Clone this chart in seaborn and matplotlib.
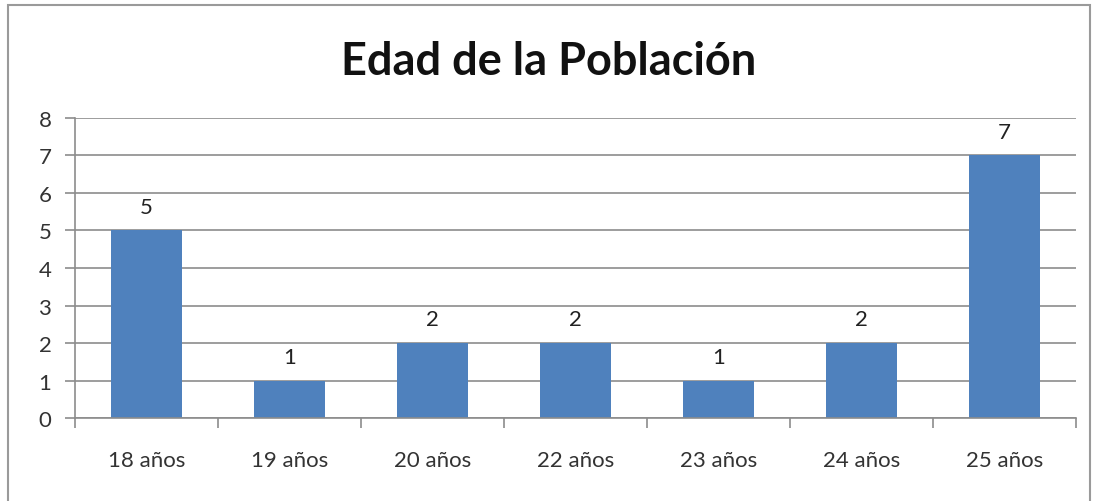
import pandas as pd
import seaborn as sns
import matplotlib.pyplot as plt
from matplotlib.patches import Rectangle

# Data
categories = ["18 años", "19 años", "20 años", "22 años", "23 años", "24 años", "25 años"]
counts = [5, 1, 2, 2, 1, 2, 7]
y_ticks = [0, 1, 2, 3, 4, 5, 6, 7, 8]

df = pd.DataFrame({"edad": categories, "cantidad": counts})

sns.set_theme(style="white")
plt.rcParams["font.family"] = ["Lato", "DejaVu Sans"]

fig = plt.figure(figsize=(10.98, 5.02), dpi=100)
ax = fig.add_axes([0.0683, 0.1653, 0.9117, 0.5977])

sns.barplot(data=df, x="edad", y="cantidad", color="#4F81BD", saturation=1,
            width=0.5, linewidth=0, ax=ax)

# value labels above the bars
for container in ax.containers:
    ax.bar_label(container, padding=10, fontsize=16, color="#222222")

ax.set_ylim(0, 8)
ax.set_yticks(y_ticks)
ax.set_xlim(-0.5, len(categories) - 0.5)
ax.yaxis.grid(True, color="#8c8c8c", linewidth=1.2)
ax.set_axisbelow(True)

for side in ["top", "right"]:
    ax.spines[side].set_visible(False)
ax.spines["left"].set_color("#8c8c8c")
ax.spines["bottom"].set_color("#8c8c8c")
ax.spines["left"].set_linewidth(1.2)
ax.spines["bottom"].set_linewidth(1.2)

# ticks on category boundaries like Excel
ax.set_xticks([i + 0.5 for i in range(-1, len(categories))], minor=True)
ax.tick_params(axis="x", which="minor", length=7, color="#8c8c8c", width=1.2,
               bottom=True)
ax.tick_params(axis="x", which="major", length=0, pad=23, labelsize=16,
               labelcolor="#333333")
ax.tick_params(axis="y", length=7, color="#8c8c8c", width=1.2, left=True,
               pad=10, labelsize=16, labelcolor="#333333")
ax.set_xlabel("")
ax.set_ylabel("")

fig.text(0.5, 0.877, "Edad de la Población", ha="center", va="center",
         fontsize=32.5, fontweight="bold", color="#111111")

# chart border
fig.patches.append(Rectangle((8 / 1098, -0.05), (1090 - 8) / 1098, 1.05 - 6 / 502,
                             transform=fig.transFigure, fill=False,
                             edgecolor="#9a9a9a", linewidth=1.5))

fig.savefig("out.png", dpi=100)
